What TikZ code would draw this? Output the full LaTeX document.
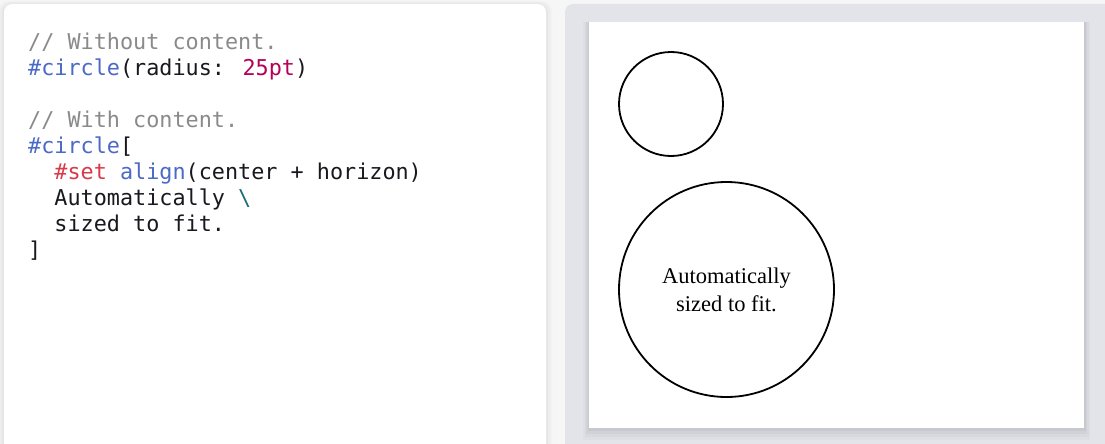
\documentclass[tikz,border=0pt]{standalone}
\usepackage{fontspec}
\setmainfont{Liberation Serif}
\newfontfamily\codefont{DejaVu Sans Mono}
\usetikzlibrary{shapes.geometric}
\definecolor{outerbg}{HTML}{F6F6F7}
\definecolor{panelgray}{HTML}{E3E4E9}
\definecolor{cmt}{HTML}{8A8A8A}
\definecolor{kwblue}{HTML}{4B69C6}
\definecolor{numred}{HTML}{B60157}
\definecolor{setred}{HTML}{D73A49}
\definecolor{esc}{HTML}{1D6C76}
\definecolor{codeblack}{HTML}{19181F}
\tikzset{
  codeline/.style={anchor=base west, inner sep=0pt, text=codeblack, font=\codefont\fontsize{21.8}{26}\selectfont},
  shape circ/.style={circle, draw=black, line width=1.8pt, inner sep=0pt},
}
\begin{document}
\begin{tikzpicture}[x=1pt,y=-1pt]
\useasboundingbox (0,0) rectangle (1105,444);
\fill[outerbg] (0,0) rectangle (1105,444);
% left panel shadow
\foreach \i/\o in {6/0.015,4/0.02,2/0.03} {
  \fill[black,opacity=\o,rounded corners=10pt] (4-\i,4-\i/2) rectangle (546+\i,460);
}
\fill[white,rounded corners=8pt] (4,4) rectangle (546,460);
% right panel
\fill[panelgray,rounded corners=8pt] (565,4) rectangle (1120,460);
% page shadow
\foreach \i/\o in {12/0.02,9/0.025,6/0.03,3/0.04} {
  \fill[black,opacity=\o] (589-\i/2,22) rectangle (1084+\i/2,428+\i);
}
\fill[white] (589,22) rectangle (1084,428);

% code
\node[codeline] (l1) at (28,49) {\textcolor{cmt}{// Without content.}};
\node[codeline] (l2) at (28,75) {\textcolor{kwblue}{\#circle}(radius: \textcolor{numred}{25pt})};
\node[codeline] (l4) at (28,127) {\textcolor{cmt}{// With content.}};
\node[codeline] (l5) at (28,153) {\textcolor{kwblue}{\#circle}[};
\node[codeline] (l6) at (54.2,179) {\textcolor{setred}{\#set} \textcolor{kwblue}{align}(center + horizon)};
\node[codeline] (l7) at (54.2,205) {Automatically \textcolor{esc}{\textbackslash}};
\node[codeline] (l8) at (54.2,231) {sized to fit.};
\node[codeline] (l9) at (28,257) {]};

% output
\node[shape circ, minimum size=104pt] (c1) at (671,104) {};
\node[shape circ, minimum size=215pt, align=center,
      font=\fontsize{22.5}{28}\selectfont] (c2) at (726.5,289.5) {Automatically\\sized to fit.};
\end{tikzpicture}
\end{document}
